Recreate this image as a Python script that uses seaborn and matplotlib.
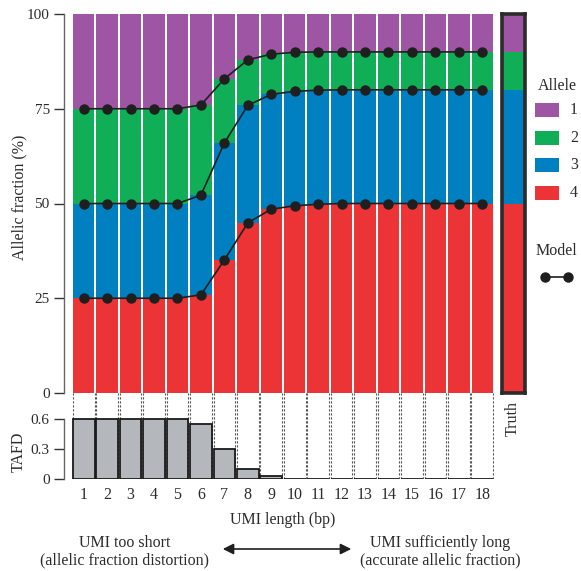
import numpy as np
import pandas as pd
import matplotlib
matplotlib.use("Agg")
import matplotlib.pyplot as plt
from matplotlib.patches import Rectangle, FancyArrowPatch
from matplotlib.lines import Line2D
import seaborn as sns

# ---------------- data ----------------
umi_lengths = [str(i) for i in range(1, 19)]
allele_labels = ["1", "2", "3", "4"]
allele_colors = ["#9E55A3", "#10AE57", "#0080C0", "#EC3436"]

# allelic fraction (%) per allele, model estimate per UMI length
allele1 = [25, 25, 25, 25, 25, 24.0, 17.1, 12.1, 10.6, 10.1, 10.0, 10, 10, 10, 10, 10, 10, 10]
allele2 = [25, 25, 25, 25, 25, 23.8, 16.9, 12.0, 10.6, 10.3, 10.1, 10, 10, 10, 10, 10, 10, 10]
allele3 = [25, 25, 25, 25, 25, 26.3, 30.9, 31.0, 30.3, 30.2, 30.1, 30, 30, 30, 30, 30, 30, 30]
allele4 = [25, 25, 25, 25, 25, 25.9, 35.1, 44.9, 48.5, 49.4, 49.8, 50, 50, 50, 50, 50, 50, 50]
truth = [10, 10, 30, 50]  # alleles 1..4

tafd = [0.6, 0.6, 0.6, 0.6, 0.6, 0.555, 0.3, 0.1, 0.026, 0.005, 0.002, 0, 0, 0, 0, 0, 0, 0]

yticks_top = [0, 25, 50, 75, 100]
yticks_bot = [0, 0.3, 0.6]
ytick_bot_labels = ["0", "0.3", "0.6"]

# ---------------- style ----------------
sns.set_theme(style="white")
plt.rcParams["font.family"] = ["Liberation Serif", "DejaVu Serif"]
TXT = "#2b2b2b"
plt.rcParams["text.color"] = TXT
plt.rcParams["axes.labelcolor"] = TXT
plt.rcParams["xtick.color"] = TXT
plt.rcParams["ytick.color"] = TXT
FS = 11.5

W, H = 581, 571
fig = plt.figure(figsize=(W / 100, H / 100), dpi=100)

def fx(px):
    return px / W

def fy(py):
    return 1 - py / H

ax_top = fig.add_axes([fx(72), fy(393), fx(494) - fx(72), fy(14) - fy(393)])
ax_truth = fig.add_axes([fx(502), fy(393), fx(525) - fx(502), fy(14) - fy(393)])
ax_bot = fig.add_axes([fx(72), fy(479), fx(494) - fx(72), fy(393) - fy(479)])

# ---------------- stacked bars ----------------
series = [allele1, allele2, allele3, allele4]
df = pd.DataFrame({"umi": umi_lengths})
cum = np.zeros(len(umi_lengths))
cums = []
for s in series[::-1]:
    cum = cum + np.array(s)
    cums.append(cum.copy())
cums = cums[::-1]  # cums[0] = top of allele1 (100), cums[3] = top of allele4

for k in range(4):
    df[f"c{k}"] = cums[k]
    sns.barplot(data=df, x="umi", y=f"c{k}", ax=ax_top, color=allele_colors[k],
                saturation=1, width=0.915, linewidth=0, zorder=1 + k)

# model lines at boundaries
xpos = np.arange(len(umi_lengths))
for k in range(1, 4):
    sns.lineplot(x=xpos, y=cums[k], ax=ax_top, color="#1f1f1f", lw=1.2,
                 marker="o", markersize=7.5, markeredgewidth=0, zorder=10)

ax_top.set_xlim(-0.5, len(umi_lengths) - 0.5)
ax_top.set_ylim(0, 100)
ax_top.set_yticks(yticks_top)
ax_top.set_yticklabels([str(v) for v in yticks_top], fontsize=FS)
ax_top.set_xticks([])
ax_top.set_xlabel("")
ax_top.set_ylabel("Allelic fraction (%)", fontsize=FS)
for s in ["top", "right", "bottom"]:
    ax_top.spines[s].set_visible(False)
ax_top.spines["left"].set_position(("outward", 6))
ax_top.spines["left"].set_color("#666666")
ax_top.spines["left"].set_linewidth(1.0)
ax_top.tick_params(axis="y", length=7, width=1.0, color="#333333", pad=3, left=True)

# ---------------- truth bar ----------------
dft = pd.DataFrame({"t": ["Truth"]})
tc = np.cumsum(truth[::-1])[::-1]
for k in range(4):
    dft[f"c{k}"] = [tc[k]]
    sns.barplot(data=dft, x="t", y=f"c{k}", ax=ax_truth, color=allele_colors[k],
                saturation=1, width=1.0, linewidth=0, zorder=1 + k)
ax_truth.set_xlim(-0.5, 0.5)
ax_truth.set_ylim(0, 100)
ax_truth.set_xticks([])
ax_truth.set_yticks([])
ax_truth.set_xlabel("")
ax_truth.set_ylabel("")
for s in ax_truth.spines.values():
    s.set_visible(True)
    s.set_linewidth(2.6)
    s.set_color("#2b2b2b")
    s.set_zorder(20)
fig.text(fx(513), fy(419), "Truth", rotation=90, ha="center", va="center", fontsize=FS)

# ---------------- TAFD bars ----------------
dfb = pd.DataFrame({"umi": umi_lengths, "tafd": tafd})
for i in range(len(umi_lengths)):
    for off in (-0.46, 0.46):
        ax_bot.axvline(i + off, ymin=0, ymax=1, color="#555555", lw=0.8,
                       ls=(0, (2, 1.6)), zorder=0)
sns.barplot(data=dfb, x="umi", y="tafd", ax=ax_bot, color="#B4B7BB", saturation=1,
            width=0.92, edgecolor="#1a1a1a", linewidth=1.3, zorder=3)
ax_bot.set_xlim(-0.5, len(umi_lengths) - 0.5)
ax_bot.set_ylim(0, 0.86)
ax_bot.set_yticks(yticks_bot)
ax_bot.set_yticklabels(ytick_bot_labels, fontsize=FS)
ax_bot.set_xticks(range(len(umi_lengths)))
ax_bot.set_xticklabels(umi_lengths, fontsize=FS)
ax_bot.tick_params(axis="x", length=0, pad=6)
ax_bot.tick_params(axis="y", length=7, width=1.0, color="#333333", pad=3, left=True)
ax_bot.set_xlabel("UMI length (bp)", fontsize=FS, labelpad=6)
ax_bot.set_ylabel("TAFD", fontsize=FS)
for s in ["top", "right", "bottom"]:
    ax_bot.spines[s].set_visible(False)
ax_bot.spines["left"].set_position(("outward", 6))
ax_bot.spines["left"].set_bounds(0, 0.6)
ax_bot.spines["left"].set_color("#666666")
ax_bot.spines["left"].set_linewidth(1.0)

# y-label positions (right edge of rotated text at ~x=27px)
ax_top.yaxis.set_label_coords((27 - 72) / (494 - 72), (393 - 197) / (393 - 14))
ax_bot.yaxis.set_label_coords((27 - 72) / (494 - 72), (479 - 452) / (479 - 393))

# ---------------- legend (drawn in figure pixels) ----------------
fig.text(fx(557), fy(86), "Allele", ha="center", va="center", fontsize=FS)
for lab, col, yc in zip(allele_labels, allele_colors, [110, 138, 165, 193]):
    fig.add_artist(Rectangle((fx(535), fy(yc + 7)), fx(559) - fx(535), fy(yc - 7) - fy(yc + 7),
                             transform=fig.transFigure, facecolor=col, edgecolor="none"))
    fig.text(fx(574), fy(yc), lab, ha="center", va="center", fontsize=FS)
fig.text(fx(556), fy(251), "Model", ha="center", va="center", fontsize=FS)
fig.add_artist(Line2D([fx(545), fx(568)], [fy(277), fy(277)], transform=fig.transFigure,
                      color="#1f1f1f", lw=1.2, marker="o", markersize=7.5, markeredgewidth=0))

# ---------------- annotation ----------------
fig.text(fx(125), fy(543), "UMI too short", ha="center", va="center", fontsize=FS)
fig.text(fx(125), fy(560), "(allelic fraction distortion)", ha="center", va="center", fontsize=FS)
fig.text(fx(440), fy(543), "UMI sufficiently long", ha="center", va="center", fontsize=FS)
fig.text(fx(440), fy(560), "(accurate allelic fraction)", ha="center", va="center", fontsize=FS)
fig.add_artist(FancyArrowPatch(
    (fx(220), fy(549)), (fx(354), fy(549)), transform=fig.transFigure,
    arrowstyle="<|-|>", mutation_scale=16, color="#1f1f1f", lw=1.2))

fig.savefig("out.png", dpi=100)
